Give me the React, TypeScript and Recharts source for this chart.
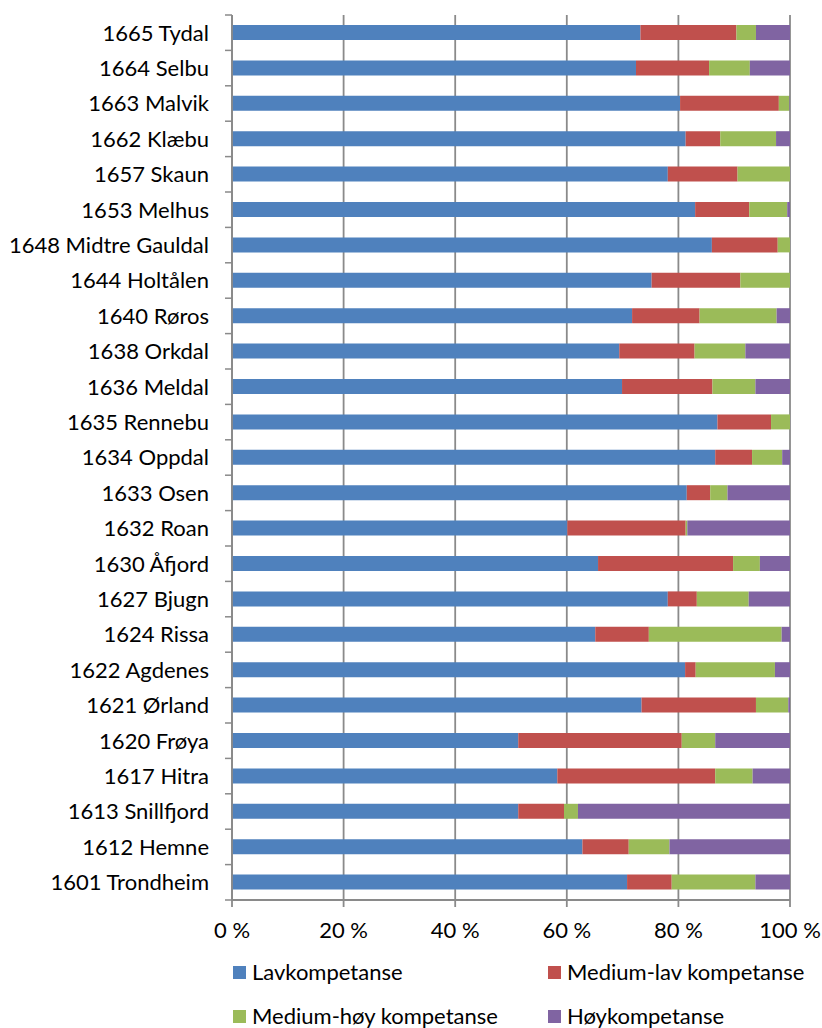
import { BarChart, Bar, XAxis, YAxis, CartesianGrid } from 'recharts';

const categories = [
  '1665 Tydal', '1664 Selbu', '1663 Malvik', '1662 Klæbu', '1657 Skaun',
  '1653 Melhus', '1648 Midtre Gauldal', '1644 Holtålen', '1640 Røros', '1638 Orkdal',
  '1636 Meldal', '1635 Rennebu', '1634 Oppdal', '1633 Osen', '1632 Roan',
  '1630 Åfjord', '1627 Bjugn', '1624 Rissa', '1622 Agdenes', '1621 Ørland',
  '1620 Frøya', '1617 Hitra', '1613 Snillfjord', '1612 Hemne', '1601 Trondheim',
];

const lav = [73.2, 72.4, 80.3, 81.3, 78.1, 83.0, 86.0, 75.2, 71.7, 69.4, 69.9, 87.0, 86.6, 81.5, 60.1, 65.6, 78.1, 65.1, 81.2, 73.4, 51.3, 58.3, 51.3, 62.8, 70.8];
const mediumLav = [17.2, 13.1, 17.7, 6.2, 12.5, 9.7, 11.8, 15.9, 12.1, 13.5, 16.2, 9.6, 6.6, 4.2, 21.2, 24.2, 5.2, 9.6, 1.9, 20.5, 29.3, 28.3, 8.2, 8.3, 8.0];
const mediumHoy = [3.5, 7.3, 1.9, 10.0, 9.4, 6.8, 2.2, 8.9, 13.8, 9.1, 7.7, 3.4, 5.4, 3.1, 0.3, 4.8, 9.3, 23.8, 14.2, 5.8, 6.0, 6.7, 2.5, 7.3, 15.0];
const hoy = [6.1, 7.2, 0.1, 2.5, 0, 0.5, 0, 0, 2.4, 8.0, 6.2, 0, 1.4, 11.2, 18.4, 5.4, 7.4, 1.5, 2.7, 0.3, 13.4, 6.7, 38.0, 21.6, 6.2];

const xTicks = [0, 0.2, 0.4, 0.6, 0.8, 1];

const series = [
  { key: 'lav', name: 'Lavkompetanse', color: '#4F81BD' },
  { key: 'mediumLav', name: 'Medium-lav kompetanse', color: '#C0504D' },
  { key: 'mediumHoy', name: 'Medium-høy kompetanse', color: '#9BBB59' },
  { key: 'hoy', name: 'Høykompetanse', color: '#8064A2' },
];

const data = categories.map((name, i) => ({
  name,
  lav: lav[i],
  mediumLav: mediumLav[i],
  mediumHoy: mediumHoy[i],
  hoy: hoy[i],
}));

const FONT = 'Lato, sans-serif';
const FONT_SIZE = 22;
const GRID = '#8a8a8a';
const TOP = 15;
const PLOT_BOTTOM = 900;
const BAND = (PLOT_BOTTOM - TOP) / categories.length;

// category label plus the boundary tick marks Excel draws between categories
function CategoryTick(props: any) {
  const { x, y, payload, index } = props;
  return (
    <g>
      <text x={x} y={y} dy="0.36em" textAnchor="end" fill="#000" fontSize={FONT_SIZE} fontFamily={FONT}>
        {payload.value}
      </text>
      <line x1={x + 16} x2={x + 23} y1={y - BAND / 2} y2={y - BAND / 2} stroke={GRID} strokeWidth={1.5} />
      {index === categories.length - 1 && (
        <line x1={x + 16} x2={x + 23} y1={y + BAND / 2} y2={y + BAND / 2} stroke={GRID} strokeWidth={1.5} />
      )}
    </g>
  );
}

export default function App() {
  return (
    <div style={{ position: 'absolute', left: 0, top: 0, width: 822, height: 1028, background: '#fff' }}>
      <BarChart
        width={822}
        height={960}
        data={data}
        layout="vertical"
        stackOffset="expand"
        barSize={15}
        margin={{ top: TOP, right: 32, left: 0, bottom: 0 }}
      >
        <CartesianGrid horizontal={false} stroke={GRID} strokeWidth={1.8} />
        <XAxis
          type="number"
          domain={[0, 1]}
          ticks={xTicks}
          tickFormatter={(v: number) => `${Math.round(v * 100)} %`}
          height={60}
          tickSize={7}
          tickMargin={15}
          axisLine={{ stroke: GRID, strokeWidth: 1.8 }}
          tickLine={{ stroke: GRID, strokeWidth: 1.8 }}
          tick={{ fill: '#000', fontSize: FONT_SIZE, fontFamily: FONT }}
          interval={0}
        />
        <YAxis
          type="category"
          dataKey="name"
          width={232}
          tickSize={7}
          tickMargin={16}
          tickLine={false}
          axisLine={{ stroke: GRID, strokeWidth: 1.8 }}
          tick={<CategoryTick />}
          interval={0}
        />
        {series.map((s) => (
          <Bar key={s.key} dataKey={s.key} name={s.name} stackId="a" fill={s.color} isAnimationActive={false} />
        ))}
      </BarChart>
      <div
        style={{
          position: 'absolute',
          left: 233,
          top: 959,
          display: 'grid',
          gridTemplateColumns: '315px 270px',
          rowGap: 18,
          fontFamily: FONT,
          fontSize: FONT_SIZE,
          lineHeight: '26px',
          color: '#000',
        }}
      >
        {series.map((s) => (
          <div key={s.key} style={{ display: 'flex', alignItems: 'center' }}>
            <span style={{ width: 13, height: 13, background: s.color, marginRight: 6, display: 'inline-block' }} />
            <span>{s.name}</span>
          </div>
        ))}
      </div>
    </div>
  );
}
